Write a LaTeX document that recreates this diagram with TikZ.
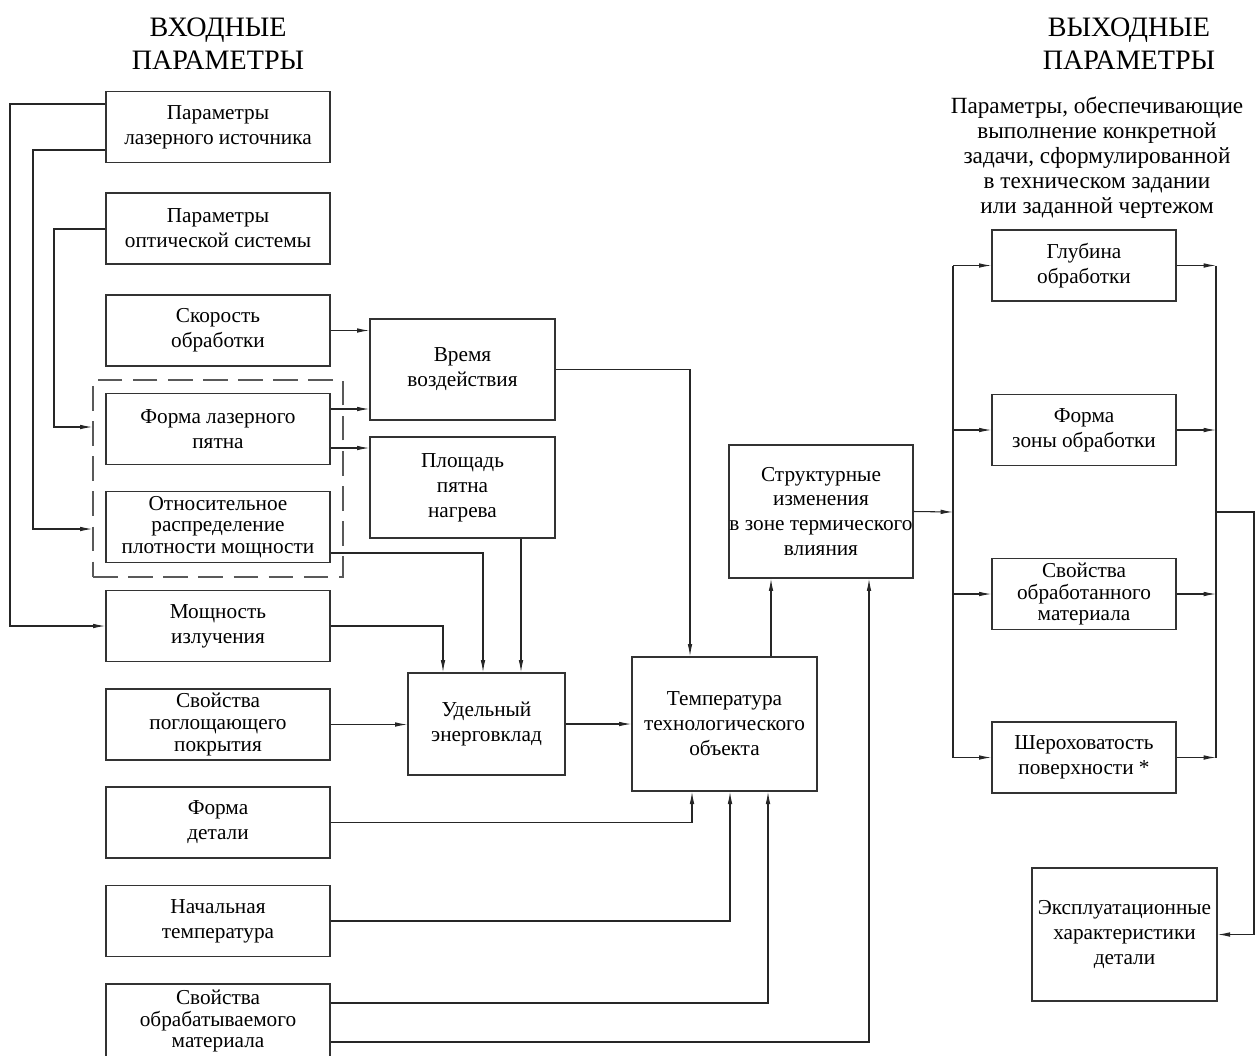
\documentclass[tikz,border=0pt]{standalone}
\usepackage{fontspec}
\setmainfont{Liberation Serif}
\usetikzlibrary{arrows.meta}
\tikzset{
    blk/.style={
        rectangle,
        draw=black!80, % рамка блока
        line width=0.8pt,
        align=center,
        inner sep=0,
        font=\fontsize{12.1}{14.2}\selectfont
    },
    tight/.style={font=\fontsize{12.1}{12.4}\selectfont}, % три строки в низком блоке
    lbox/.style={blk, minimum width=4.48cm, minimum height=1.42cm},
    rbox/.style={blk, minimum width=3.68cm, minimum height=1.42cm},
    bigbox/.style={blk, minimum width=3.7cm, minimum height=2.66cm},
    grpbox/.style={
        rectangle,
        draw=black!65,
        line width=0.8pt,
        dash pattern=on 14pt off 6pt,
        minimum width=5cm,
        minimum height=3.94cm
    },
    head/.style={align=center, inner sep=0, font=\fontsize{16}{18.7}\selectfont},
    note/.style={align=center, inner sep=0, font=\fontsize{13.2}{14.2}\selectfont},
    conn/.style={draw=black!85, line width=0.6pt},
    arr/.style={conn, -{Latex[length=7pt,width=2.6pt]}}
}

\begin{document}
\begin{tikzpicture}[x=0.02cm, y=-0.02cm]
    \useasboundingbox (0,0) rectangle (1257,1055);
    % заголовки
    \node[head] (inhead) at (218,44) {ВХОДНЫЕ\\ПАРАМЕТРЫ};
    \node[head] (outhead) at (1129,44) {ВЫХОДНЫЕ\\ПАРАМЕТРЫ};
    \node[note] (outnote) at (1097,158) {Параметры, обеспечивающие\\выполнение конкретной\\задачи, сформулированной\\в техническом задании\\или заданной чертежом};

    % входные параметры
    \node[grpbox] (group) at (218,478.5) {};
    \node[lbox] (srcpar) at (218,127) {Параметры\\лазерного источника};
    \node[lbox] (optpar) at (218,228.5) {Параметры\\оптической системы};
    \node[lbox] (speed) at (218,330.5) {Скорость\\обработки};
    \node[lbox] (spot) at (218,429) {Форма лазерного\\пятна};
    \node[lbox, tight] (distr) at (218,527) {Относительное\\распределение\\плотности мощности};
    \node[lbox] (power) at (218,626) {Мощность\\излучения};
    \node[lbox, tight] (coat) at (218,724.5) {Свойства\\поглощающего\\покрытия};
    \node[lbox] (shape) at (218,822.5) {Форма\\детали};
    \node[lbox] (tinit) at (218,921) {Начальная\\температура};
    \node[lbox, tight, minimum height=1.48cm] (matprop) at (218,1021) {Свойства\\обрабатываемого\\материала};

    % промежуточные блоки
    \node[blk, minimum width=3.7cm, minimum height=2.02cm] (time) at (462.5,369.5) {Время\\воздействия};
    \node[blk, minimum width=3.7cm, minimum height=2.02cm] (area) at (462.5,487.5) {Площадь\\пятна\\нагрева};
    \node[blk, minimum width=3.14cm, minimum height=2.04cm] (energy) at (486.5,724) {Удельный\\энерговклад};
    \node[blk, minimum width=3.7cm, minimum height=2.68cm] (temp) at (724.5,724) {Температура\\технологического\\объекта};
    \node[bigbox, minimum width=3.68cm] (struct) at (821,511.5) {Структурные\\изменения\\в зоне термического\\влияния};

    % выходные параметры
    \node[rbox] (depth) at (1084,265.5) {Глубина\\обработки};
    \node[rbox] (zone) at (1084,430) {Форма\\зоны обработки};
    \node[rbox, tight] (matout) at (1084,594) {Свойства\\обработанного\\материала};
    \node[rbox] (rough) at (1084,757.5) {Шероховатость\\поверхности *};
    \node[bigbox] (exploit) at (1124.5,934.5) {Эксплуатационные\\характеристики\\детали};

    % связи слева
    \draw[arr] (srcpar.west |- 0,104) -- (10,104) |- (power.west);
    \draw[arr] (srcpar.west |- 0,150) -- (33,150) |- (group.west |- 0,529);
    \draw[arr] (optpar.west |- 0,229) -- (54,229) |- (group.west |- 0,427);
    \draw[arr] (speed.east) -- (time.west |- speed.east);
    \draw[arr] (spot.east |- 0,409) -- (time.west |- 0,409);
    \draw[arr] (spot.east |- 0,448) -- (area.west |- 0,448);
    \draw[arr] (distr.east |- 0,553) -| (energy.north -| 483,0);
    \draw[arr] (power.east) -| (energy.north -| 443,0);
    \draw[arr] (area.south -| 521,0) -- (energy.north -| 521,0);
    \draw[arr] (coat.east) -- (energy.west |- coat.east);
    \draw[arr] (energy.east) -- (temp.west |- energy.east);
    \draw[arr] (time.east) -| (temp.north -| 690,0);
    \draw[arr] (shape.east) -| (temp.south -| 692,0);
    \draw[arr] (tinit.east) -| (temp.south -| 730,0);
    \draw[arr] (matprop.east |- 0,1003) -| (temp.south -| 768,0);
    \draw[arr] (matprop.east |- 0,1042) -| (struct.south -| 869,0);
    \draw[arr] (temp.north -| 771,0) -- (struct.south -| 771,0);

    % связи справа
    \coordinate (ltrunk) at (953,512);
    \coordinate (rtrunk) at (1216,512);
    \draw[arr] (struct.east) -- (ltrunk);
    \draw[conn] (depth.west -| ltrunk) -- (rough.west -| ltrunk);
    \draw[conn] (depth.east -| rtrunk) -- (rough.east -| rtrunk);
    \foreach \n in {depth, zone, matout, rough} {
        \draw[arr] (\n.west -| ltrunk) -- (\n.west);
        \draw[arr] (\n.east) -- (\n.east -| rtrunk);
    }
    \draw[arr] (rtrunk) -- (1254,512) |- (exploit.east);
\end{tikzpicture}
\end{document}
